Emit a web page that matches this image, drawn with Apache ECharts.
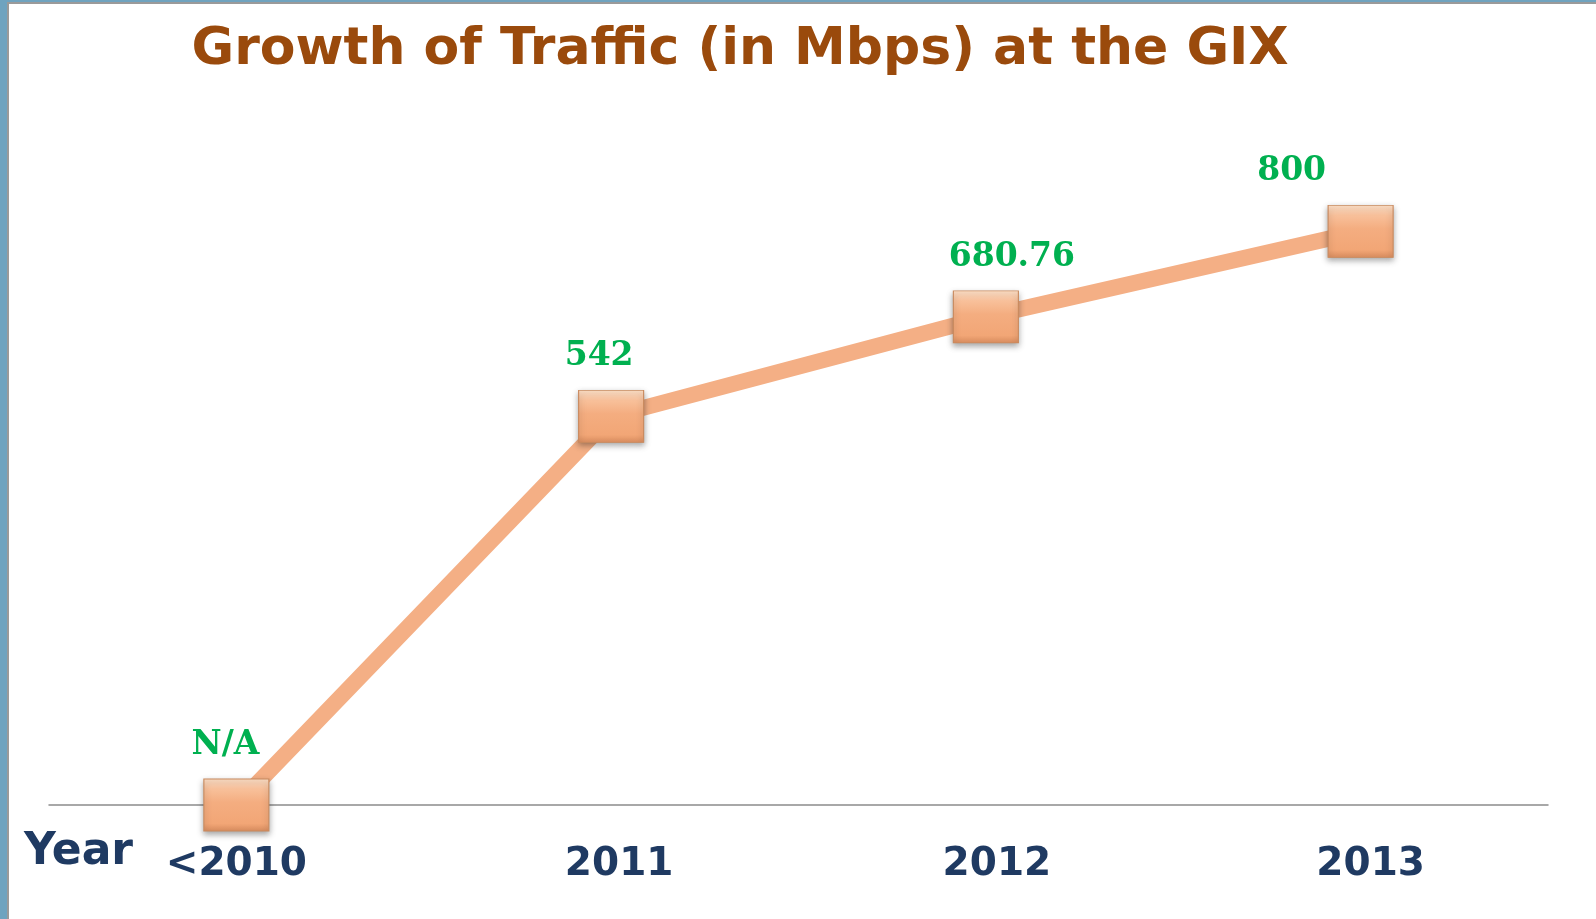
<!DOCTYPE html>
<html lang="en">

<head>
    <meta charset="UTF-8">
    <title>Growth of Traffic (in Mbps) at the GIX</title>
    <script src="https://cdn.jsdelivr.net/npm/echarts@6/dist/echarts.min.js"></script>
    <style>
        html, body {
            margin: 0;
            padding: 0;
            background: #ffffff;
        }
        #chart {
            width: 1596px;
            height: 919px;
        }
    </style>
</head>

<body>
    <div id="chart"></div>

    <script>
        // data
        var years = ['<2010', '2011', '2012', '2013'];
        var traffic = [0, 542, 680.76, 800];          // first year has no figure, drawn on the baseline
        var valueLabels = ['N/A', '542', '680.76', '800'];

        // small per-point nudges of the labels, as in the original slide
        var labelNudge = [-11, -12, 26, -69];
        var yearNudge = [0, 16, 22, 20];

        var chart = echarts.init(document.getElementById('chart'));

        var markerFill = new echarts.graphic.LinearGradient(0, 0, 0, 1, [
            { offset: 0, color: '#fde0c8' },
            { offset: 0.2, color: '#f8c09a' },
            { offset: 0.45, color: '#f4ad80' },
            { offset: 0.85, color: '#f2a676' },
            { offset: 1, color: '#d98d5f' }
        ]);

        var option = {
            backgroundColor: '#ffffff',
            animation: false,
            title: {
                text: 'Growth of Traffic (in Mbps) at the GIX',
                left: 735,
                top: 19,
                textAlign: 'center',
                textStyle: {
                    fontFamily: 'DejaVu Sans',
                    fontWeight: 'bold',
                    fontSize: 52,
                    color: '#9a4a0c'
                }
            },
            grid: {
                left: 49,
                right: 48,
                top: 88,
                bottom: 114
            },
            xAxis: {
                type: 'category',
                boundaryGap: true,
                data: years.map(function (y, i) {
                    return { value: y, textStyle: { padding: [0, 0, 0, yearNudge[i]] } };
                }),
                axisLine: { lineStyle: { color: '#8c8c8c', width: 1.5 } },
                axisTick: { show: false },
                axisLabel: {
                    margin: 40,
                    fontFamily: 'DejaVu Sans',
                    fontWeight: 'bold',
                    fontSize: 39,
                    lineHeight: 39,
                    color: '#1f3a62'
                }
            },
            yAxis: {
                type: 'value',
                min: 0,
                max: 1000,
                show: false,
                splitLine: { show: false }
            },
            graphic: [
                { type: 'rect', left: 0, top: 0, shape: { width: 7, height: 919 }, style: { fill: '#6fa3bf' }, z: 10 },
                { type: 'rect', left: 7, top: 0, shape: { width: 2, height: 919 }, style: { fill: '#9a9a9a' }, z: 10 },
                { type: 'rect', left: 0, top: 0, shape: { width: 1596, height: 2 }, style: { fill: '#6fa3bf' }, z: 10 },
                { type: 'rect', left: 7, top: 2, shape: { width: 1589, height: 2 }, style: { fill: '#9a9a9a' }, z: 10 },
                {
                    type: 'text',
                    left: 24,
                    top: 831,
                    style: {
                        text: 'Year',
                        fontFamily: 'DejaVu Sans',
                        fontWeight: 'bold',
                        fontSize: 44,
                        fill: '#1f3a62'
                    }
                }
            ],
            series: [{
                type: 'line',
                data: traffic.map(function (v, i) {
                    return { value: v, label: { offset: [labelNudge[i], 0] } };
                }),
                clip: false,
                symbol: 'rect',
                symbolSize: [65, 52],
                lineStyle: { color: '#f4af85', width: 16 },
                itemStyle: {
                    color: markerFill,
                    borderColor: '#c98a5e',
                    borderWidth: 1,
                    shadowBlur: 6,
                    shadowOffsetY: 3,
                    shadowColor: 'rgba(0, 0, 0, 0.35)'
                },
                label: {
                    show: true,
                    position: 'top',
                    distance: 17,
                    formatter: function (p) { return valueLabels[p.dataIndex]; },
                    fontFamily: 'DejaVu Serif',
                    fontWeight: 'bold',
                    fontSize: 33,
                    lineHeight: 33,
                    color: '#00b050'
                }
            }]
        };

        chart.setOption(option);
    </script>
</body>

</html>
